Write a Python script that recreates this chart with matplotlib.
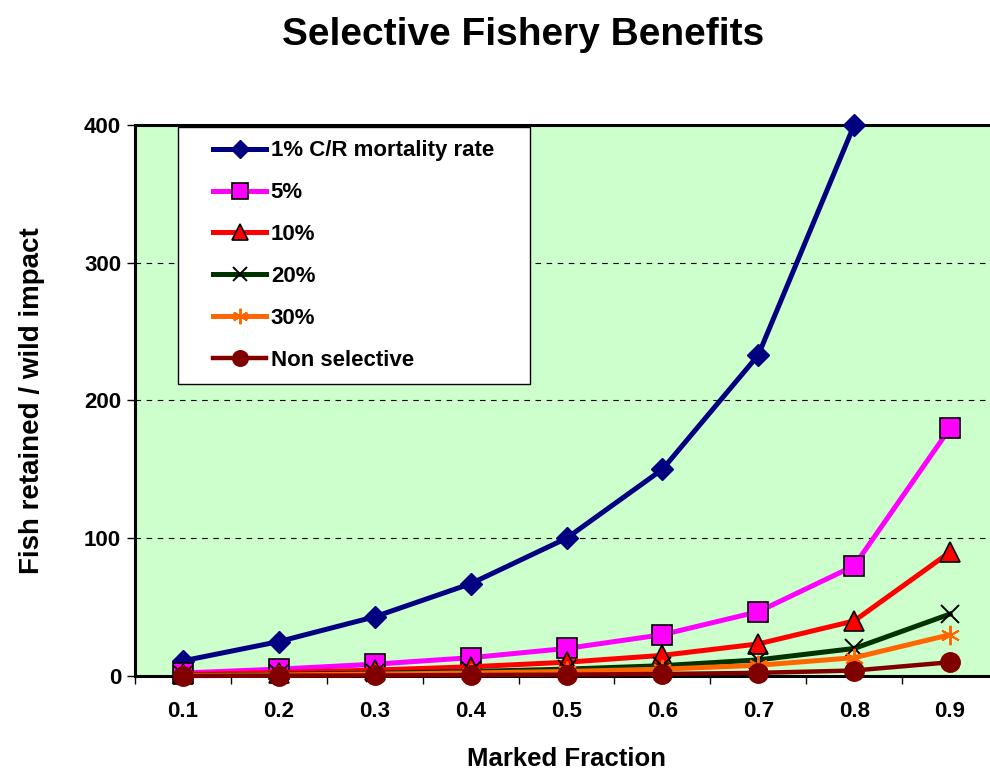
import matplotlib
matplotlib.use("Agg")
import matplotlib.pyplot as plt
from matplotlib.patches import Rectangle
from matplotlib.ticker import FixedLocator

plt.rcParams['font.family'] = ['Liberation Sans', 'DejaVu Sans']
plt.rcParams['font.weight'] = 'bold'

# marked fraction of the run
marked = [0.1, 0.2, 0.3, 0.4, 0.5, 0.6, 0.7, 0.8, 0.9]

# fish retained per unit of wild impact, by catch/release mortality rate
rate_1 = [11, 25, 43, 67, 100, 150, 233, 400]
rate_5 = [2.2, 5, 8.6, 13.3, 20, 30, 46.7, 80, 180]
rate_10 = [1.1, 2.5, 4.3, 6.7, 10, 15, 23.3, 40, 90]
rate_20 = [0.6, 1.25, 2.1, 3.3, 5, 7.5, 11.7, 20, 45]
rate_30 = [0.4, 0.8, 1.4, 2.2, 3.3, 5, 7.8, 13.3, 30]
non_selective = [0.1, 0.25, 0.4, 0.7, 1, 1.5, 2.3, 4, 10]

labels = ["1% C/R mortality rate", "5%", "10%", "20%", "30%", "Non selective"]
y_ticks = [0, 100, 200, 300, 400]

fig = plt.figure(figsize=(9.9, 7.71), dpi=100)
ax = fig.add_axes([0.1364, 0.1232, 0.8717, 0.7147])
ax.set_facecolor('#CCFFCC')

ax.plot(marked[:len(rate_1)], rate_1, color='#000080', lw=3.6, marker='D', ms=11,
        mfc='#000080', mec='#000080', label=labels[0], clip_on=False, zorder=3)
ax.plot(marked, rate_5, color='#FF00FF', lw=3.6, marker='s', ms=14,
        mfc='#FF00FF', mec='black', mew=1.2, label=labels[1], clip_on=False, zorder=3)
ax.plot(marked, rate_10, color='#FF0000', lw=3.6, marker='^', ms=15,
        mfc='#FF0000', mec='black', mew=1.2, label=labels[2], clip_on=False, zorder=3)
ax.plot(marked, rate_20, color='#003300', lw=3.6, marker='x', ms=13,
        mec='black', mew=1.4, label=labels[3], clip_on=False, zorder=3)
ax.plot(marked, rate_30, color='#FF6600', lw=3.6, marker=(6, 2, 0), ms=14,
        mec='#FF6600', mew=1.4, label=labels[4], clip_on=False, zorder=3)
ax.plot(marked, non_selective, color='#800000', lw=3.2, marker='o', ms=14,
        mfc='#800000', mec='#800000', label=labels[5], clip_on=False, zorder=3)

ax.set_xlim(0.05, 0.95)
ax.set_ylim(0, 400)
ax.set_xticks(marked)
ax.set_xticklabels([f"{m:.1f}" for m in marked])
ax.xaxis.set_minor_locator(FixedLocator([0.05 + 0.1 * i for i in range(10)]))
ax.tick_params(axis='x', which='major', length=0, pad=18, labelsize=16)
ax.tick_params(axis='x', which='minor', length=6, width=1)
ax.set_yticks(y_ticks)
ax.tick_params(axis='y', length=6, width=1, pad=4, labelsize=16)

ax.yaxis.grid(True, color='black', ls=(0, (5, 5)), lw=0.8)
ax.set_axisbelow(True)
for s in ax.spines.values():
    s.set_linewidth(2.2)

ax.set_xlabel("Marked Fraction", fontsize=18.5, fontweight='bold', labelpad=18)
ax.set_ylabel("Fish retained / wild impact", fontsize=20, fontweight='bold', labelpad=28)
fig.text(0.528, 0.955, "Selective Fishery Benefits", fontsize=28, fontweight='bold',
         ha='center', va='center')

# legend box drawn separately so the entries can sit inset from its edge
ax.add_patch(Rectangle((0.0498, 0.530), 0.4079, 0.4664, transform=ax.transAxes,
                       facecolor='white', edgecolor='black', lw=1, zorder=4))
leg = ax.legend(loc='upper left', bbox_to_anchor=(0.0904, 0.972), borderaxespad=0,
                borderpad=0, prop={'size': 16, 'weight': 'bold'}, handlelength=2.4,
                handletextpad=0.2, labelspacing=0.94, markerscale=0.8,
                frameon=False)
leg.set_zorder(5)

fig.savefig("out.png", dpi=100)
